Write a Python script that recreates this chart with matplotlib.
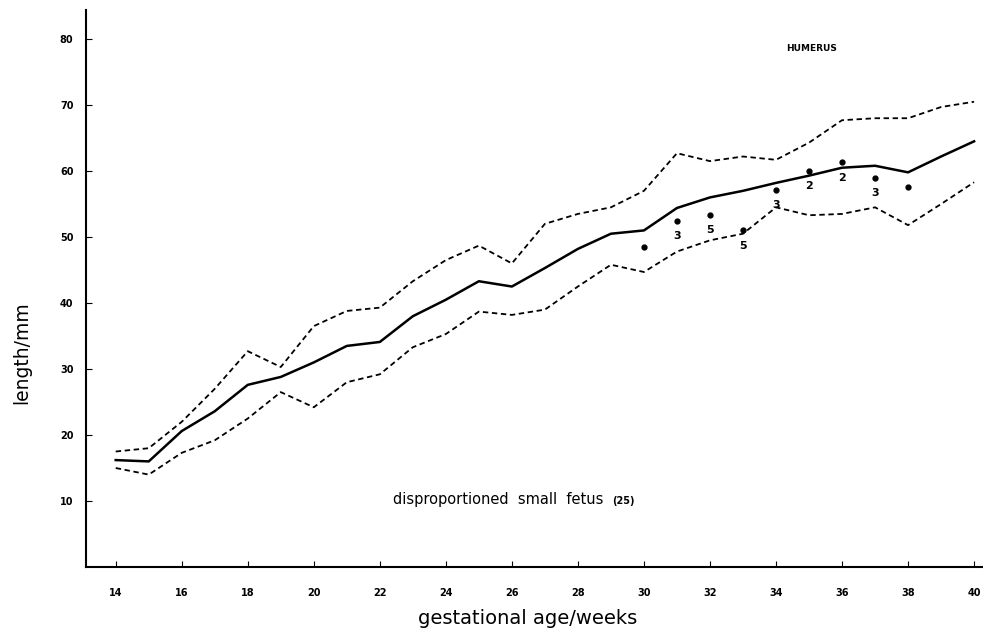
import numpy as np
import matplotlib
matplotlib.use("Agg")
import matplotlib.pyplot as plt

# tygodnie ciazy
weeks = np.arange(14, 41)

# mediana i granice (mm)
median = [16.2, 16.0, 20.6, 23.6, 27.6, 28.8, 31.0, 33.5, 34.1, 38.0, 40.5, 43.3, 42.5,
          45.3, 48.2, 50.5, 51.0, 54.4, 56.0, 57.0, 58.2, 59.3, 60.5, 60.8, 59.8, 62.2, 64.5]
upper = [17.5, 18.0, 22.0, 27.0, 32.7, 30.3, 36.5, 38.8, 39.3, 43.3, 46.5, 48.7, 46.0,
         52.0, 53.5, 54.5, 57.0, 62.7, 61.5, 62.2, 61.7, 64.3, 67.7, 68.0, 68.0, 69.7, 70.5]
lower = [15.0, 14.0, 17.3, 19.2, 22.5, 26.5, 24.2, 28.0, 29.2, 33.3, 35.3, 38.7, 38.2,
         39.0, 42.5, 45.8, 44.7, 47.8, 49.5, 50.5, 54.5, 53.3, 53.5, 54.5, 51.8, 55.0, 58.3]

# pomiary plodow
ptX = [30, 31, 32, 33, 34, 35, 36, 37, 38]
ptY = [48.5, 52.4, 53.4, 51.0, 57.2, 60.0, 61.3, 59.0, 57.6]
ptN = ["", "3", "5", "5", "3", "2", "2", "3", ""]

fig = plt.figure(figsize=(9.83, 6.35), dpi=100)
ax = fig.add_axes([86/983, 1-567/635, 1-86/983, (567-10)/635])

ax.plot(weeks, median, color="black", lw=1.8)
ax.plot(weeks, upper, color="black", lw=1.3, ls=(0, (3, 2)))
ax.plot(weeks, lower, color="black", lw=1.3, ls=(0, (3, 2)))
ax.plot(ptX, ptY, "o", color="black", ms=3.5)
for x, y, n in zip(ptX, ptY, ptN):
    if n:
        ax.annotate(n, (x, y), xytext=(0, -11), textcoords="offset points",
                    ha="center", va="center", fontsize=8, fontweight="bold")

ax.set_xlim(13.1, 40.27)
ax.set_ylim(0, 84.4)
ax.set_xticks(range(14, 41, 2))
ax.set_yticks(range(10, 81, 10))
ax.spines["top"].set_visible(False)
ax.spines["right"].set_visible(False)
ax.spines["left"].set_linewidth(1.5)
ax.spines["bottom"].set_linewidth(1.5)
ax.tick_params(axis="x", direction="in", length=4, pad=15, labelsize=7)
ax.tick_params(axis="y", direction="in", length=4, pad=9, labelsize=7)
for lab in ax.get_xticklabels() + ax.get_yticklabels():
    lab.set_fontweight("bold")

fig.text(528/983, 1-619/635, "gestational age/weeks", ha="center", va="center", fontsize=14)
fig.text(22/983, 1-353/635, "length/mm", ha="center", va="center", rotation=90, fontsize=13.5)

ax.text(22.4, 10.2, "disproportioned  small  fetus", fontsize=10.5, va="center")
ax.text(29.05, 10.0, "(25)", fontsize=7, fontweight="bold", va="center")
ax.text(34.3, 78.6, "HUMERUS", fontsize=6.5, fontweight="bold", va="center")

plt.savefig("out.png", dpi=100)
